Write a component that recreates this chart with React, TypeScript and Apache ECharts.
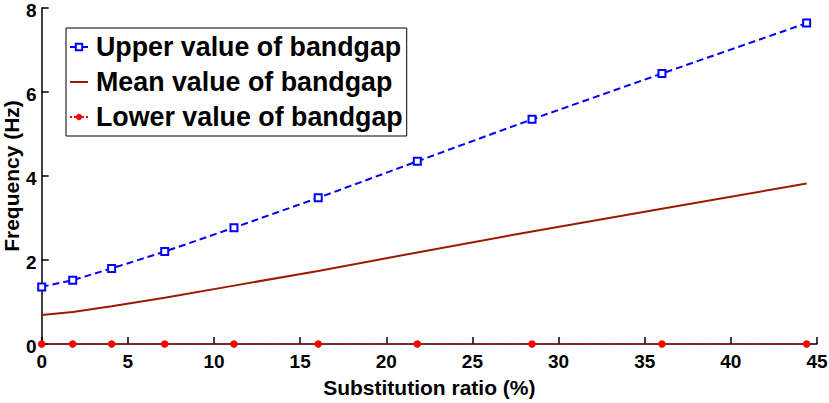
import React, { useEffect, useRef } from "react";
import * as echarts from "echarts";

const xValues = [0, 1.8, 4.06, 7.14, 11.16, 16.05, 21.8, 28.46, 36.0, 44.4];
const upperValues = [1.36, 1.52, 1.8, 2.2, 2.77, 3.48, 4.35, 5.35, 6.44, 7.64];
const meanValues = [0.69, 0.76, 0.9, 1.1, 1.39, 1.74, 2.18, 2.68, 3.22, 3.82];
const lowerValues = [0, 0, 0, 0, 0, 0, 0, 0, 0, 0];
const seriesNames = ["Upper value of bandgap", "Mean value of bandgap", "Lower value of bandgap"];
const xAxisTitle = "Substitution ratio (%)";
const yAxisTitle = "Frequency (Hz)";

const FONT = "'Liberation Sans', Arial, Helvetica, sans-serif";

const pair = (ys: number[]) => xValues.map((x, i) => [x, ys[i]]);

export default function App() {
  const ref = useRef<HTMLDivElement>(null);
  useEffect(() => {
    if (!ref.current) return;
    const chart = echarts.init(ref.current, undefined, { renderer: "svg" });
    const axisCommon = {
      type: "value" as const,
      axisLine: { show: true, onZero: false, lineStyle: { color: "#000", width: 1.5 } },
      axisTick: { show: true, inside: true, length: 7, lineStyle: { color: "#000", width: 1.5 } },
      splitLine: { show: false },
      nameLocation: "middle" as const,
      nameMoveOverlap: false,
      nameTextStyle: { color: "#000", fontFamily: FONT, fontWeight: "bold" as const, fontSize: 21 },
    };
    chart.setOption({
      animation: false,
      backgroundColor: "#fff",
      grid: { left: 41.7, right: 12, top: 8, bottom: 59, containLabel: false, outerBoundsMode: "none" },
      xAxis: {
        ...axisCommon,
        min: 0,
        max: 45,
        interval: 5,
        name: xAxisTitle,
        nameGap: 33,
        axisLabel: { color: "#000", fontFamily: FONT, fontWeight: "bold", fontSize: 19, margin: 8 },
      },
      yAxis: {
        ...axisCommon,
        min: 0,
        max: 8,
        interval: 2,
        name: yAxisTitle,
        nameGap: 20,
        axisLabel: {
          color: "#000",
          fontFamily: FONT,
          fontWeight: "bold",
          fontSize: 19,
          verticalAlign: "top",
          lineHeight: 5,
          margin: 5,
        },
      },
      legend: {
        orient: "vertical",
        left: 66,
        top: 28,
        padding: [4, 4, 4, 3],
        itemWidth: 18,
        itemHeight: 8,
        itemGap: 5,
        backgroundColor: "#fff",
        borderColor: "#000",
        borderWidth: 1,
        borderRadius: 0,
        selectedMode: false,
        textStyle: {
          color: "#000",
          fontFamily: FONT,
          fontWeight: "bold",
          fontSize: 26.8,
          lineHeight: 30,
          padding: [0, 0, 0, 3],
        },
        data: [
          { name: seriesNames[0] },
          { name: seriesNames[1], itemStyle: { opacity: 0 } },
          { name: seriesNames[2] },
        ],
      },
      series: [
        {
          name: seriesNames[0],
          type: "line",
          data: pair(upperValues),
          symbol: "emptyRect",
          symbolSize: 7,
          showSymbol: true,
          lineStyle: { color: "#0000FF", width: 2, type: [7, 4] },
          itemStyle: { color: "#0000FF", borderColor: "#0000FF", borderWidth: 1.5 },
          z: 3,
        },
        {
          name: seriesNames[1],
          type: "line",
          data: pair(meanValues),
          symbol: "circle",
          symbolSize: 0,
          showSymbol: false,
          lineStyle: { color: "#9B1B00", width: 2 },
          itemStyle: { color: "#9B1B00" },
          z: 3,
        },
        {
          name: seriesNames[2],
          type: "line",
          data: pair(lowerValues),
          symbol: "circle",
          symbolSize: 7.5,
          showSymbol: true,
          lineStyle: { color: "#FF0000", width: 1.5, type: "dotted" },
          itemStyle: { color: "#FF0000" },
          z: 4,
        },
      ],
    });
    return () => chart.dispose();
  }, []);
  return (
    <div
      ref={ref}
      style={{ position: "fixed", left: 0, top: 0, width: 829, height: 403, background: "#fff" }}
    />
  );
}
